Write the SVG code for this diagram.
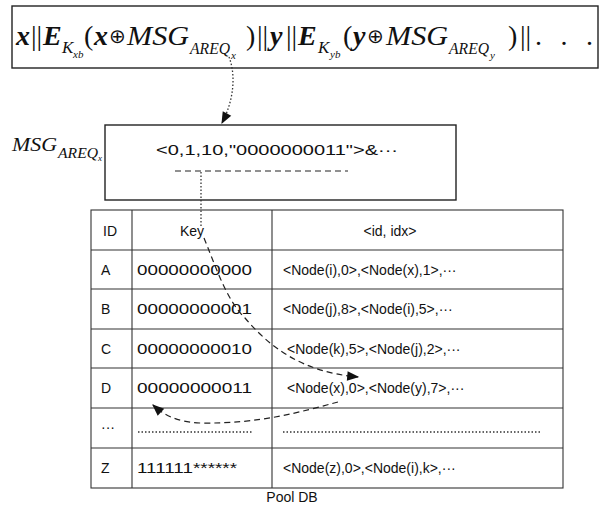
<svg xmlns="http://www.w3.org/2000/svg" width="602" height="508" viewBox="0 0 602 508">
  <style>
    .box { fill: #fff; stroke: #222; stroke-width: 1.4; }
    .grid { stroke: #333; stroke-width: 1.1; fill: none; }
    .math { font-family: "Liberation Serif", serif; font-style: italic; fill: #111; }
    .up { font-style: normal; }
    .b { font-weight: bold; }
    .cell { font-family: "Liberation Sans", Arial, sans-serif; font-size: 14px; fill: #111; }
    .dot { stroke: #333; stroke-width: 1.3; stroke-dasharray: 1.5 2; fill: none; }
    .dash { stroke: #222; stroke-width: 1.2; stroke-dasharray: 6 4; fill: none; }
  </style>
  <defs>
    <marker id="headBig" viewBox="0 0 10 10" refX="9" refY="5" markerWidth="15" markerHeight="12" markerUnits="userSpaceOnUse" orient="auto">
      <path d="M0,1 L10,5 L0,9 Z" fill="#111"/>
    </marker>
  </defs>

  <!-- ciphertext chain -->
  <g id="cipher">
    <rect class="box" x="12" y="6" width="586" height="62"/>
    <g class="math">
      <text class="b" x="16" y="45" font-size="28">x</text>
      <text class="up" x="31" y="45" font-size="28">||</text>
      <text class="b" x="43" y="45" font-size="28">E</text>
      <text x="62" y="53" font-size="17">K</text>
      <text x="73" y="58" font-size="11">xb</text>
      <text class="up" x="84" y="45" font-size="28">(</text>
      <text class="b" x="94" y="45" font-size="28">x</text>
      <text class="up" x="109" y="43" font-size="20">⊕</text>
      <text x="127" y="45" font-size="28" textLength="62" lengthAdjust="spacingAndGlyphs">MSG</text>
      <text x="190" y="54" font-size="16" textLength="40" lengthAdjust="spacingAndGlyphs">AREQ</text>
      <text x="231" y="59" font-size="11">x</text>
      <text class="up" x="246" y="45" font-size="28">)</text>
      <text class="up" x="257" y="45" font-size="28">||</text>
      <text class="b" x="270" y="45" font-size="28">y</text>
      <text class="up" x="286" y="45" font-size="28">||</text>
      <text class="b" x="298" y="45" font-size="28">E</text>
      <text x="318" y="53" font-size="17">K</text>
      <text x="330" y="58" font-size="11">yb</text>
      <text class="up" x="343" y="45" font-size="28">(</text>
      <text class="b" x="353" y="45" font-size="28">y</text>
      <text class="up" x="367" y="43" font-size="20">⊕</text>
      <text x="386" y="45" font-size="28" textLength="62" lengthAdjust="spacingAndGlyphs">MSG</text>
      <text x="449" y="54" font-size="16" textLength="40" lengthAdjust="spacingAndGlyphs">AREQ</text>
      <text x="490" y="59" font-size="11">y</text>
      <text class="up" x="508" y="45" font-size="28">)</text>
      <text class="up" x="520" y="45" font-size="28">||</text>
      <text class="up" x="535" y="45" font-size="28" textLength="58" lengthAdjust="spacing">...</text>
    </g>
  </g>

  <!-- request message -->
  <g id="msg">
    <text class="math" x="12" y="151" font-size="19" textLength="45" lengthAdjust="spacingAndGlyphs">MSG</text>
    <text class="math" x="58" y="158" font-size="14" textLength="40" lengthAdjust="spacingAndGlyphs">AREQ</text>
    <text class="math" x="98" y="161" font-size="9">x</text>
    <rect class="box" x="105" y="125" width="351" height="75"/>
    <text class="cell" x="156" y="155" font-size="15" textLength="242" lengthAdjust="spacingAndGlyphs">&lt;0,1,10,"0000000011"&gt;&amp;···</text>
  </g>

  <!-- pool database table -->
  <g id="pool-db">
    <rect class="grid" x="91" y="210" width="472" height="278"/>
    <path class="grid" d="M91,250 H563 M91,289 H563 M91,329 H563 M91,368 H563 M91,408 H563 M91,448 H563 M132,210 V488 M272,210 V488"/>
    <g class="cell">
      <text x="103" y="236">ID</text>
      <text x="192" y="236" text-anchor="middle">Key</text>
      <text x="390" y="236" text-anchor="middle">&lt;id, idx&gt;</text>

      <text x="101" y="275">A</text>
      <text x="137" y="275" font-size="15" textLength="115" lengthAdjust="spacingAndGlyphs">00000000000</text>
      <text x="283" y="275">&lt;Node(i),0&gt;,&lt;Node(x),1&gt;,···</text>

      <text x="101" y="314">B</text>
      <text x="137" y="314" font-size="15" textLength="115" lengthAdjust="spacingAndGlyphs">00000000001</text>
      <text x="283" y="314">&lt;Node(j),8&gt;,&lt;Node(i),5&gt;,···</text>

      <text x="101" y="354">C</text>
      <text x="137" y="354" font-size="15" textLength="115" lengthAdjust="spacingAndGlyphs">00000000010</text>
      <text x="287" y="354">&lt;Node(k),5&gt;,&lt;Node(j),2&gt;,···</text>

      <text x="101" y="393">D</text>
      <text x="137" y="393" font-size="15" textLength="115" lengthAdjust="spacingAndGlyphs">00000000011</text>
      <text x="287" y="393">&lt;Node(x),0&gt;,&lt;Node(y),7&gt;,···</text>

      <text x="101" y="432">···</text>

      <text x="101" y="473">Z</text>
      <text x="137" y="473" font-size="15" textLength="100" lengthAdjust="spacingAndGlyphs">111111******</text>
      <text x="283" y="473">&lt;Node(z),0&gt;,&lt;Node(i),k&gt;,···</text>
    </g>
    <path class="dot" d="M138,432 H252 M283,432 H540"/>
    <text class="cell" x="292" y="502" font-size="15" text-anchor="middle">Pool DB</text>
  </g>

  <!-- connectors -->
  <g id="connectors">
    <path class="dot" d="M229,57 C236,75 234,100 222,123" marker-end="url(#headBig)"/>
    <path class="dash" d="M175,171 H348"/>
    <path class="dot" d="M201,172 V228"/>
    <path class="dash" d="M204,238 C214,262 226,300 245,318 C268,345 300,372 358,377" marker-end="url(#headBig)"/>
    <path class="dash" d="M338,402 C300,412 260,424 200,423 C178,422 165,416 153,405" marker-end="url(#headBig)"/>
  </g>
</svg>
